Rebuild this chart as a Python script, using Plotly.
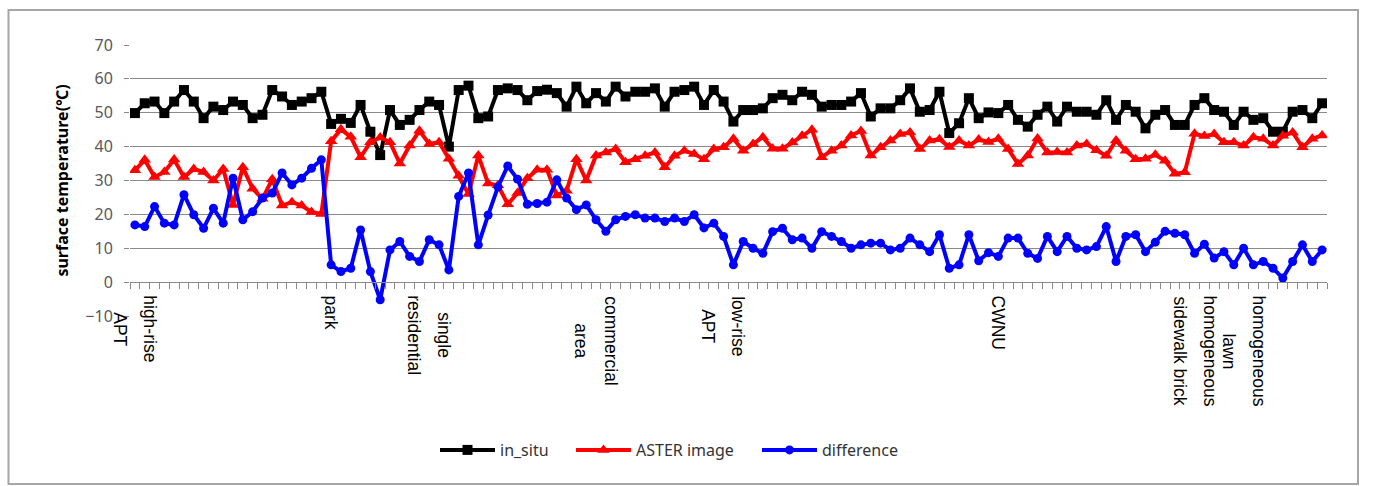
import plotly.graph_objects as go

# ---------------- data ----------------
station = list(range(122))

in_situ = [
    49.9, 52.8, 53.3, 49.9, 53.3, 56.7, 53.3, 48.4, 51.8, 50.8,
    53.3, 52.3, 48.4, 49.4, 56.7, 54.8, 52.3, 53.3, 54.3, 56.2,
    46.7, 48.2, 47.0, 52.3, 44.4, 37.5, 50.8, 46.4, 47.9, 50.8,
    53.3, 52.3, 40.0, 56.7, 58.0, 48.4, 48.9, 56.7, 57.2, 56.7,
    53.7, 56.4, 56.8, 55.8, 51.8, 57.7, 52.8, 55.8, 53.3, 57.7,
    54.8, 56.2, 56.2, 57.2, 51.8, 56.2, 56.7, 57.7, 52.3, 56.7,
    53.3, 47.4, 50.8, 50.8, 51.3, 54.3, 55.3, 53.7, 56.2, 55.3,
    51.8, 52.3, 52.3, 53.3, 55.8, 48.9, 51.3, 51.3, 53.7, 57.2,
    50.3, 50.8, 56.2, 44.0, 46.9, 54.3, 48.4, 50.1, 49.9, 52.3,
    47.9, 45.9, 49.4, 51.8, 47.4, 51.8, 50.3, 50.3, 49.4, 53.7,
    47.9, 52.3, 50.3, 45.4, 49.4, 50.8, 46.4, 46.4, 52.3, 54.3,
    50.8, 50.3, 46.4, 50.3, 47.9, 48.4, 44.4, 44.4, 50.3, 50.8,
    48.4, 52.8,
]

aster = [
    33.0, 36.1, 31.0, 32.5, 36.2, 31.0, 33.4, 32.5, 30.0, 33.4,
    22.8, 33.9, 27.6, 24.6, 30.4, 22.6, 23.6, 22.6, 20.7, 20.1,
    41.6, 45.1, 42.9, 36.9, 41.3, 42.7, 41.3, 35.0, 40.3, 44.7,
    40.8, 41.3, 36.4, 31.4, 26.0, 37.4, 29.1, 28.6, 23.0, 26.3,
    30.7, 33.2, 33.2, 25.6, 27.0, 36.3, 30.0, 37.4, 38.3, 39.3,
    35.4, 36.3, 37.3, 38.3, 33.9, 37.3, 38.8, 37.8, 36.3, 39.3,
    39.8, 42.3, 38.8, 40.8, 42.8, 39.4, 39.4, 41.2, 43.2, 45.0,
    36.9, 38.8, 40.3, 43.3, 44.6, 37.4, 39.8, 41.8, 43.7, 44.2,
    39.3, 41.8, 42.2, 39.9, 41.8, 40.3, 42.1, 41.4, 42.3, 39.3,
    34.9, 37.4, 42.4, 38.3, 38.4, 38.3, 40.3, 40.8, 38.9, 37.3,
    41.8, 38.8, 36.3, 36.4, 37.6, 35.8, 32.0, 32.4, 43.8, 43.1,
    43.7, 41.3, 41.3, 40.3, 42.8, 42.3, 40.3, 43.2, 44.2, 39.8,
    42.3, 43.3,
]

difference = [
    16.9, 16.4, 22.3, 17.4, 16.9, 25.8, 19.9, 15.9, 21.8, 17.4,
    30.7, 18.4, 20.8, 24.8, 26.3, 32.2, 28.7, 30.7, 33.6, 36.1,
    5.1, 3.1, 4.1, 15.4, 3.1, -5.2, 9.5, 12.0, 7.6, 6.1,
    12.5, 11.0, 3.6, 25.3, 32.2, 11.0, 19.8, 28.1, 34.3, 30.4,
    23.0, 23.2, 23.6, 30.2, 24.8, 21.4, 22.8, 18.4, 15.0, 18.4,
    19.4, 19.9, 18.9, 18.9, 17.9, 18.9, 17.9, 19.9, 16.0, 17.4,
    13.5, 5.1, 12.0, 10.0, 8.5, 14.9, 15.9, 12.5, 13.0, 10.0,
    14.9, 13.5, 12.0, 10.0, 11.0, 11.5, 11.5, 9.5, 10.0, 13.0,
    11.0, 9.0, 14.0, 4.1, 5.1, 14.0, 6.3, 8.7, 7.6, 13.0,
    13.0, 8.5, 7.0, 13.5, 9.0, 13.5, 10.0, 9.5, 10.5, 16.4,
    6.1, 13.5, 14.0, 9.0, 11.8, 15.0, 14.4, 14.0, 8.5, 11.2,
    7.1, 9.0, 5.1, 10.0, 5.1, 6.1, 4.1, 1.2, 6.1, 11.0,
    6.1, 9.5,
]

label_positions = [0, 20, 30, 47, 60, 88, 108, 113]
label_texts = [
    "high-rise<br>APT", "park", "single<br>residential", "commercial<br>area",
    "low-rise<br>APT", "CWNU", "homogeneous<br>sidewalk brick", "homogeneous<br>lawn",
]

y_ticks = [-10, 0, 10, 20, 30, 40, 50, 60, 70]

# ---------------- figure ----------------
W, H = 1379, 486
ML, MR, MT, MB = 130, 52, 45, 170
plot_w = W - ML - MR
plot_h = H - MT - MB
grid_col = "#8a8a8a"
legend_font = dict(family="Noto Sans, Open Sans", size=16, color="#333333")

fig = go.Figure()
fig.add_trace(go.Scatter(
    x=station, y=in_situ, name="in_situ", mode="lines+markers", legend="legend",
    line=dict(color="#000000", width=4),
    marker=dict(symbol="square", size=10, color="#000000"),
))
fig.add_trace(go.Scatter(
    x=station, y=aster, name="ASTER image", mode="lines+markers", legend="legend2",
    line=dict(color="#ff0000", width=4),
    marker=dict(symbol="triangle-up", size=11, color="#ff0000"),
))
fig.add_trace(go.Scatter(
    x=station, y=difference, name="difference", mode="lines+markers", legend="legend3",
    line=dict(color="#0000ff", width=4),
    marker=dict(symbol="circle", size=9, color="#0000ff"),
))

# Arial-metric widths (per 1000 em) for centering multi-line rotated labels
AW = {c: 556 for c in "abdeghnopqu"}
AW.update({"c": 500, "f": 278, "i": 222, "j": 222, "k": 500, "l": 222, "m": 833,
           "r": 333, "s": 500, "t": 278, "v": 500, "w": 722, "x": 500, "y": 500,
           "z": 500, " ": 278, "-": 333, "A": 667, "P": 667, "T": 611, "C": 722,
           "W": 944, "N": 722, "U": 722})
FS = 17.5


def text_len(s):
    return sum(AW.get(ch, 556) for ch in s) * FS / 1000.0


label_top = 13.5  # px below the y=0 axis line
line_pitch = 30
annotations = []
for pos, txt in zip(label_positions, label_texts):
    lines = txt.split("<br>")
    longest = max(text_len(l) for l in lines)
    n = len(lines)
    for k, ln in enumerate(lines):
        annotations.append(dict(
            x=pos, y=0, xref="x", yref="y", text=ln, showarrow=False,
            textangle=90, xanchor="center", yanchor="middle",
            xshift=((n - 1) / 2.0 - k) * line_pitch,
            yshift=-(label_top + longest / 2.0),
            font=dict(family="Liberation Sans, Arial", size=FS, color="#000000"),
        ))


def legend_at(px_left):
    return dict(
        orientation="h", x=(px_left - ML) / plot_w, xanchor="left",
        y=(H - MB - 450) / plot_h, yanchor="middle",
        font=legend_font, bgcolor="rgba(0,0,0,0)", itemwidth=55,
        borderwidth=0,
    )


fig.update_layout(
    width=W, height=H,
    margin=dict(l=ML, r=MR, t=MT, b=MB),
    paper_bgcolor="white", plot_bgcolor="white",
    showlegend=True,
    legend=legend_at(435),
    legend2=legend_at(571),
    legend3=legend_at(757),
    annotations=annotations,
    shapes=[dict(type="rect", xref="paper", yref="paper",
                 x0=(8.5 - ML) / plot_w, x1=(1358 - ML) / plot_w,
                 y0=(H - MB - 484) / plot_h, y1=(H - MB - 10) / plot_h,
                 line=dict(color="#a6a6a6", width=2), layer="below")],
)

fig.update_xaxes(
    range=[-0.5, 121.5], anchor="free", position=0.125,
    showline=True, linecolor=grid_col, linewidth=1.3,
    ticks="outside", tickmode="linear", tick0=-0.5, dtick=1,
    ticklen=6, tickcolor=grid_col, tickwidth=1,
    showticklabels=False, showgrid=False, zeroline=False,
)
fig.update_yaxes(
    range=[-10, 70], tickvals=y_ticks,
    showgrid=True, gridcolor=grid_col, gridwidth=1.3,
    zeroline=False, showline=False,
    ticks="outside", ticklen=5, tickcolor=grid_col, tickwidth=1.3,
    tickfont=dict(family="Noto Sans, Open Sans", size=16, color="#595959"),
    ticklabelstandoff=8,
    title=dict(text="<b>surface temperature(℃)</b>", standoff=12,
               font=dict(family="Noto Sans, Open Sans", size=16, color="#000000")),
)

fig.write_html("out.html")
